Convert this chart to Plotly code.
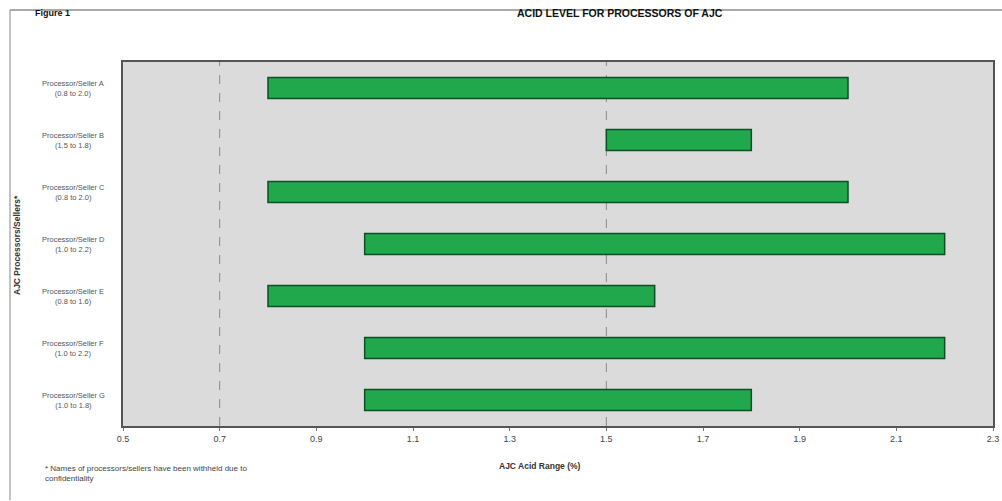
import plotly.graph_objects as go

sellers = ["Processor/Seller A", "Processor/Seller B", "Processor/Seller C",
           "Processor/Seller D", "Processor/Seller E", "Processor/Seller F",
           "Processor/Seller G"]
low = [0.8, 1.5, 0.8, 1.0, 0.8, 1.0, 1.0]
high = [2.0, 1.8, 2.0, 2.2, 1.6, 2.2, 1.8]
range_labels = ["(0.8 to 2.0)", "(1.5 to 1.8)", "(0.8 to 2.0)", "(1.0 to 2.2)",
                "(0.8 to 1.6)", "(1.0 to 2.2)", "(1.0 to 1.8)"]
x_ticks = [0.5, 0.7, 0.9, 1.1, 1.3, 1.5, 1.7, 1.9, 2.1, 2.3]
x_ticktext = ["0.5", "0.7", "0.9", "1.1", "1.3", "1.5", "1.7", "1.9", "2.1", "2.3"]
ref_lines = [0.7, 1.5]

FONT = "Liberation Sans, Arial, sans-serif"
W, H = 1002, 501
L, R, T, B = 123, 9, 62, 75
PW, PH = W - L - R, H - T - B


def px(x):
    return (x - L) / PW


def py(y):
    return (H - B - y) / PH


fig = go.Figure()
fig.add_trace(go.Bar(
    y=sellers,
    x=[h - l for h, l in zip(high, low)],
    base=low,
    orientation="h",
    width=0.4,
    marker=dict(color="#22a84c", line=dict(color="#0b4f24", width=1.5)),
    hoverinfo="skip",
))

shapes = []
for v in ref_lines:
    shapes.append(dict(type="line", xref="x", yref="paper", x0=v, x1=v, y0=0, y1=1,
                       line=dict(color="#8a8a8a", width=1, dash="dash"), layer="below"))
# page frame lines
shapes.append(dict(type="line", xref="paper", yref="paper", x0=px(10), x1=px(1002),
                   y0=py(10), y1=py(10), line=dict(color="#555555", width=1)))
shapes.append(dict(type="line", xref="paper", yref="paper", x0=px(10), x1=px(10),
                   y0=py(500), y1=py(10), line=dict(color="#888888", width=1)))

annotations = []
for s, r in zip(sellers, range_labels):
    annotations.append(dict(x=px(73), xref="paper", y=s, yref="y",
                            text=f"{s}<br>{r}", showarrow=False, align="center",
                            xanchor="center", yanchor="middle",
                            font=dict(family=FONT, size=7.5, color="#555555")))
annotations += [
    dict(x=px(620), xref="paper", y=py(13), yref="paper", xanchor="center", yanchor="middle",
         text="<b>ACID LEVEL FOR PROCESSORS OF AJC</b>", showarrow=False,
         font=dict(family=FONT, size=10.5, color="#111111")),
    dict(x=px(33), xref="paper", y=py(13), yref="paper", xanchor="left", yanchor="middle",
         text="<b>Figure 1</b>", showarrow=False,
         font=dict(family=FONT, size=9, color="#111111")),
    dict(x=px(540), xref="paper", y=py(466), yref="paper", xanchor="center", yanchor="middle",
         text="<b>AJC Acid Range (%)</b>", showarrow=False,
         font=dict(family=FONT, size=8.5, color="#333333")),
    dict(x=px(17), xref="paper", y=py(245), yref="paper", xanchor="center", yanchor="middle",
         text="<b>AJC Processors/Sellers*</b>", showarrow=False, textangle=-90,
         font=dict(family=FONT, size=8.5, color="#333333")),
    dict(x=px(43), xref="paper", y=py(462), yref="paper", xanchor="left", yanchor="top",
         text="* Names of processors/sellers have been withheld due to<br>confidentiality",
         showarrow=False, align="left",
         font=dict(family=FONT, size=8, color="#444444")),
]

fig.update_layout(
    width=W, height=H,
    margin=dict(l=L, r=R, t=T, b=B, autoexpand=False),
    paper_bgcolor="white",
    plot_bgcolor="#dcdbdb",
    showlegend=False,
    shapes=shapes,
    annotations=annotations,
    font=dict(family=FONT, color="#444444"),
)
fig.update_xaxes(
    range=[0.5, 2.3], tickvals=x_ticks, ticktext=x_ticktext, automargin=False,
    tickfont=dict(family=FONT, size=9, color="#444444"),
    showgrid=False, zeroline=False,
    showline=True, linecolor="#555555", linewidth=1.5, mirror=True,
    ticks="outside", ticklen=3, tickcolor="#777777",
)
fig.update_yaxes(
    categoryorder="array", categoryarray=sellers, autorange="reversed", automargin=False,
    showticklabels=False, showgrid=False, zeroline=False,
    showline=True, linecolor="#555555", linewidth=1.5, mirror=True,
)

fig.write_html("out.html", config={"displayModeBar": False},
               post_script="document.body.style.margin='0';document.body.style.overflow='hidden';")
